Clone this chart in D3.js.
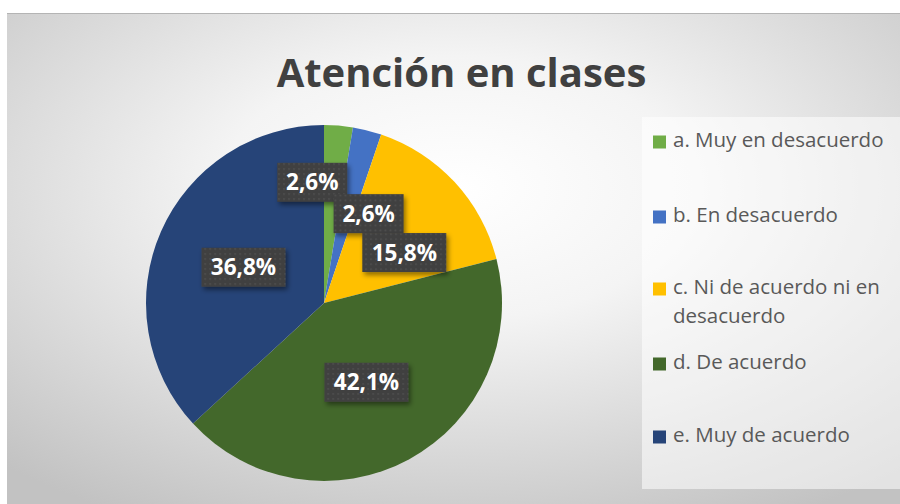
<!DOCTYPE html>
<html>
<head>
<meta charset="utf-8">
<script src="https://cdn.jsdelivr.net/npm/d3@7"></script>
<style>
  body { margin: 0; background: #fff; }
  svg { display: block; }
</style>
</head>
<body>
<svg id="chart" width="900" height="504"></svg>
<script>
// data
var categories = ["a. Muy en desacuerdo", "b. En desacuerdo", "c. Ni de acuerdo ni en desacuerdo", "d. De acuerdo", "e. Muy de acuerdo"];
var legendLines = [["a. Muy en desacuerdo"], ["b. En desacuerdo"], ["c. Ni de acuerdo ni en", "desacuerdo"], ["d. De acuerdo"], ["e. Muy de acuerdo"]];
var values = [2.6, 2.6, 15.8, 42.1, 36.8];
var colors = ["#70AD47", "#4472C4", "#FFC000", "#43682B", "#264478"];
var title = "Atención en clases";

// manual nudges for labels that would overlap (like excel's dragged labels)
var labelNudge = [[-19, -32], [23, -3], [15, 10], [0, 1], [1, 0]];

var svg = d3.select("#chart");
var defs = svg.append("defs");

var bg = defs.append("radialGradient").attr("id", "bg")
  .attr("cx", "50%").attr("cy", "35%").attr("r", "75%");
bg.append("stop").attr("offset", "0%").attr("stop-color", "#ffffff");
bg.append("stop").attr("offset", "35%").attr("stop-color", "#f4f4f4");
bg.append("stop").attr("offset", "100%").attr("stop-color", "#c2c2c2");

var pat = defs.append("pattern").attr("id", "dots")
  .attr("width", 5).attr("height", 5).attr("patternUnits", "userSpaceOnUse");
pat.append("rect").attr("width", 5).attr("height", 5).attr("fill", "#404040");
pat.append("rect").attr("x", 1).attr("y", 1).attr("width", 1.4).attr("height", 1.4).attr("fill", "#575757");

var sh = defs.append("filter").attr("id", "shadow")
  .attr("x", "-20%").attr("y", "-20%").attr("width", "150%").attr("height", "160%");
sh.append("feDropShadow").attr("dx", 2).attr("dy", 3).attr("stdDeviation", 2.5)
  .attr("flood-color", "#000").attr("flood-opacity", 0.45);

// chart area
svg.append("rect").attr("x", 7).attr("y", 13).attr("width", 900).attr("height", 500)
  .attr("fill", "url(#bg)");
svg.append("line").attr("x1", 7).attr("x2", 900).attr("y1", 13.5).attr("y2", 13.5)
  .attr("stroke", "#b4b4b4").attr("stroke-width", 1);

svg.append("text").attr("x", 461.5).attr("y", 87)
  .attr("text-anchor", "middle")
  .attr("font-family", "'Open Sans', sans-serif").attr("font-weight", "bold")
  .attr("font-size", 40).attr("fill", "#404040")
  .text(title);

// pie
var cx = 324, cy = 303, r = 178;
var pie = d3.pie().sort(null).value(function (d) { return d; });
var arcs = pie(values);
var arc = d3.arc().innerRadius(0).outerRadius(r);
var labelArc = d3.arc().innerRadius(r * 0.5).outerRadius(r * 0.5);

var g = svg.append("g").attr("transform", "translate(" + cx + "," + cy + ")");
g.selectAll("path.slice").data(arcs).enter().append("path")
  .attr("class", "slice")
  .attr("d", arc)
  .attr("fill", function (d, i) { return colors[i]; });

var fmt = function (v) { return v.toFixed(1).replace(".", ",") + "%"; };

var labels = g.selectAll("g.lbl").data(arcs).enter().append("g")
  .attr("class", "lbl")
  .attr("transform", function (d, i) {
    var c = labelArc.centroid(d);
    return "translate(" + (c[0] + labelNudge[i][0]) + "," + (c[1] + labelNudge[i][1]) + ")";
  });
labels.append("rect")
  .attr("x", function (d) { return fmt(d.data).length > 4 ? -42 : -35; })
  .attr("width", function (d) { return fmt(d.data).length > 4 ? 84 : 70; })
  .attr("y", -19.5).attr("height", 39)
  .attr("fill", "url(#dots)")
  .attr("filter", "url(#shadow)");
labels.append("text")
  .attr("text-anchor", "middle").attr("dy", "0.36em")
  .attr("font-family", "'Open Sans', sans-serif").attr("font-weight", "bold")
  .attr("font-size", 22.5).attr("fill", "#fff")
  .text(function (d) { return fmt(d.data); });

// legend
svg.append("rect").attr("x", 642).attr("y", 117).attr("width", 260).attr("height", 372)
  .attr("fill", "#fff").attr("fill-opacity", 0.55);

var legendBase = [147, 222, 294, 369, 442];
var lg = svg.append("g").selectAll("g").data(categories).enter().append("g")
  .attr("transform", function (d, i) { return "translate(0," + legendBase[i] + ")"; });
lg.append("rect").attr("x", 653).attr("y", -11.5).attr("width", 13).attr("height", 13)
  .attr("fill", function (d, i) { return colors[i]; });
lg.append("text")
  .attr("font-family", "'Open Sans', sans-serif").attr("font-size", 20.5).attr("fill", "#595959")
  .selectAll("tspan").data(function (d, i) { return legendLines[i]; }).enter().append("tspan")
  .attr("x", 673).attr("y", function (d, j) { return j * 29; })
  .text(function (d) { return d; });
</script>
</body>
</html>
